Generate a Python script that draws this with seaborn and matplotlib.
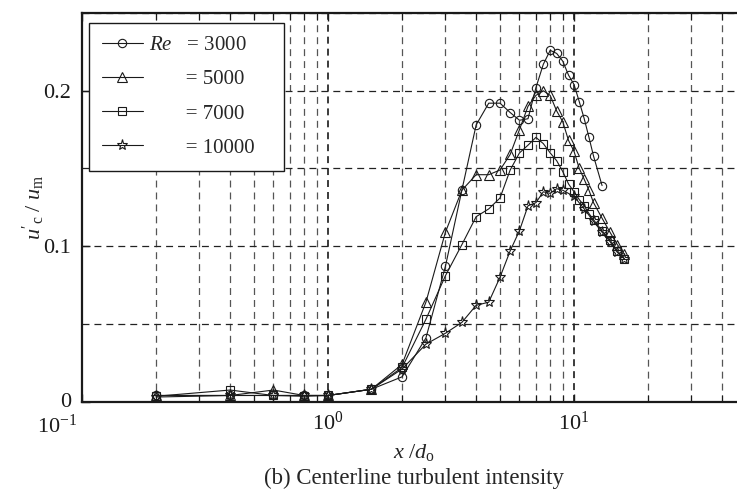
import numpy as np
import pandas as pd
import matplotlib
matplotlib.use("Agg")
import matplotlib.pyplot as plt
import matplotlib.ticker as mticker
import matplotlib.transforms as mtransforms
import seaborn as sns

# Centerline turbulent intensity u'_c/u_m versus x/d_o for four Reynolds numbers
x_3000 = [0.2, 0.4, 0.6, 0.8, 1.0, 1.5, 2.0, 2.5, 3.0, 3.5, 4.0, 4.5, 5.0, 5.5,
          6.0, 6.5, 7.0, 7.5, 8.0, 8.5, 9.0, 9.5, 10, 10.5, 11, 11.5, 12, 13]
u_3000 = [0.004, 0.004, 0.004, 0.004, 0.004, 0.008, 0.016, 0.041, 0.087, 0.136,
          0.178, 0.192, 0.192, 0.186, 0.181, 0.182, 0.202, 0.217, 0.226, 0.224,
          0.219, 0.210, 0.204, 0.193, 0.182, 0.170, 0.158, 0.139]

x_5000 = [0.2, 0.4, 0.6, 0.8, 1.0, 1.5, 2.0, 2.5, 3.0, 3.5, 4.0, 4.5, 5.0, 5.5,
          6.0, 6.5, 7.0, 7.5, 8.0, 8.5, 9.0, 9.5, 10, 10.5, 11, 11.5, 12, 13,
          14, 15, 16]
u_5000 = [0.004, 0.004, 0.0075, 0.004, 0.004, 0.008, 0.024, 0.064, 0.109, 0.136,
          0.146, 0.146, 0.149, 0.159, 0.175, 0.190, 0.197, 0.200, 0.197, 0.187,
          0.180, 0.168, 0.161, 0.150, 0.143, 0.136, 0.128, 0.118, 0.109, 0.101,
          0.095]

x_7000 = [0.2, 0.4, 0.6, 0.8, 1.0, 1.5, 2.0, 2.5, 3.0, 3.5, 4.0, 4.5, 5.0, 5.5,
          6.0, 6.5, 7.0, 7.5, 8.0, 8.5, 9.0, 9.5, 10, 10.5, 11, 11.5, 12, 13,
          14, 15, 16]
u_7000 = [0.0035, 0.0075, 0.004, 0.0035, 0.004, 0.008, 0.022, 0.053, 0.081,
          0.101, 0.119, 0.124, 0.131, 0.149, 0.160, 0.165, 0.170, 0.166, 0.160,
          0.155, 0.148, 0.140, 0.135, 0.130, 0.126, 0.121, 0.117, 0.110, 0.104,
          0.097, 0.092]

x_10000 = [0.2, 0.4, 0.6, 0.8, 1.0, 1.5, 2.0, 2.5, 3.0, 3.5, 4.0, 4.5, 5.0, 5.5,
           6.0, 6.5, 7.0, 7.5, 8.0, 8.5, 9.0, 10, 11, 12, 13, 14, 15, 16]
u_10000 = [0.003, 0.004, 0.004, 0.004, 0.004, 0.008, 0.021, 0.037, 0.044, 0.051,
           0.062, 0.064, 0.080, 0.097, 0.110, 0.126, 0.128, 0.135, 0.134, 0.137,
           0.136, 0.132, 0.124, 0.116, 0.109, 0.103, 0.096, 0.092]

reynolds = ["3000", "5000", "7000", "10000"]
markers = ["o", "^", "s", "*"]
marker_sizes = [6.0, 6.5, 6.0, 8.0]

sns.set_theme(style="ticks")
plt.rcParams["font.family"] = ["Liberation Serif", "DejaVu Serif"]
plt.rcParams["mathtext.fontset"] = "custom"
plt.rcParams["mathtext.rm"] = "Liberation Serif"
plt.rcParams["mathtext.it"] = "Liberation Serif:italic"
plt.rcParams["mathtext.bf"] = "Liberation Serif:bold"
plt.rcParams["lines.scale_dashes"] = False

FS = 16
FS_LEG = 15

fig = plt.figure(figsize=(7.37, 4.90), dpi=100)
W, H = 737.0, 490.0
ax_l, ax_r, ax_t, ax_b = 82.0, 746.0, 13.0, 401.7
ax = fig.add_axes([ax_l / W, 1 - ax_b / H, (ax_r - ax_l) / W, (ax_b - ax_t) / H])

frames = []
for re_, xs, us in zip(reynolds, [x_3000, x_5000, x_7000, x_10000],
                       [u_3000, u_5000, u_7000, u_10000]):
    frames.append(pd.DataFrame({"x": xs, "u": us, "Re": re_}))
data = pd.concat(frames, ignore_index=True)

handles = []
for re_, mk, ms in zip(reynolds, markers, marker_sizes):
    sub = data[data["Re"] == re_]
    sns.lineplot(data=sub, x="x", y="u", ax=ax, color="k", lw=0.8,
                 marker=mk, ms=ms, mfc="none", mec="k", mew=0.8,
                 estimator=None, sort=False, errorbar=None, legend=False)
    handles.append(ax.lines[-1])

ax.set_xscale("log")
ax.set_xlim(0.1, 50)
ax.set_ylim(0, 0.25)

# ticks
ax.xaxis.set_major_locator(mticker.LogLocator(base=10, numticks=10))
ax.xaxis.set_minor_locator(mticker.LogLocator(base=10, subs=np.arange(2, 10), numticks=20))
ax.xaxis.set_minor_formatter(mticker.NullFormatter())
ax.yaxis.set_major_locator(mticker.MultipleLocator(0.1))
ax.yaxis.set_minor_locator(mticker.MultipleLocator(0.05))
ax.yaxis.set_major_formatter(mticker.FuncFormatter(lambda v, p: "0" if abs(v) < 1e-9 else f"{v:g}"))
ax.tick_params(which="both", direction="in", top=True, right=True, labelsize=FS, colors="k")
ax.tick_params(axis="x", which="major", length=6, width=1.0, pad=7)
ax.tick_params(axis="x", which="minor", length=5, width=0.8)
ax.tick_params(axis="y", which="major", length=6, width=1.0, pad=8)
ax.tick_params(axis="y", which="minor", length=0)

# dashed grid
dash = (0, (5, 3.6))
ax.grid(False)
ax.xaxis.grid(True, which="major", color="k", lw=1.2, linestyle=dash)
ax.xaxis.grid(True, which="minor", color="#555555", lw=0.9, linestyle=dash)
ax.yaxis.grid(True, which="both", color="#222222", lw=0.9, linestyle=dash)
ax.set_axisbelow(True)

for sp in ax.spines.values():
    sp.set_linewidth(1.6)
    sp.set_color("k")

ax.set_xlabel(r"$x\ /d_{\rm o}$", fontsize=FS, labelpad=3)
ax.set_ylabel(r"$u'{}_{\rm c}\ /\ u_{\rm m}$", fontsize=FS, labelpad=-3)

fig.canvas.draw()
for t in ax.get_xticklabels():
    if "-1" in t.get_text():
        t.set_horizontalalignment("right")
        t.set_transform(t.get_transform() + mtransforms.ScaledTranslation(-5 / 100, -3 / 100, fig.dpi_scale_trans))
for t in ax.get_yticklabels():
    if t.get_text() == "0":
        t.set_transform(t.get_transform() + mtransforms.ScaledTranslation(0, 2 / 100, fig.dpi_scale_trans))

labels = [r"$Re$" + "   = 3000", "       = 5000", "       = 7000", "       = 10000"]
leg_l, leg_r, leg_t, leg_b = 89.0, 284.0, 22.7, 169.0
pw, ph = ax_r - ax_l, ax_b - ax_t
leg = ax.legend(handles, labels, loc="upper left", mode="expand",
                bbox_to_anchor=((leg_l - ax_l) / pw, (ax_b - leg_b) / ph,
                                (leg_r - leg_l) / pw, (leg_b - leg_t) / ph),
                borderaxespad=0, fontsize=FS_LEG, frameon=True, fancybox=False,
                framealpha=1, edgecolor="k", handlelength=1.95, handletextpad=0.3,
                borderpad=0.62, labelspacing=0.7)
leg.get_frame().set_linewidth(1.0)

fig.text(414 / W, 1 - 478 / H, "(b) Centerline turbulent intensity",
         ha="center", va="center", fontsize=16.5)

fig.savefig("out.png", dpi=100)
